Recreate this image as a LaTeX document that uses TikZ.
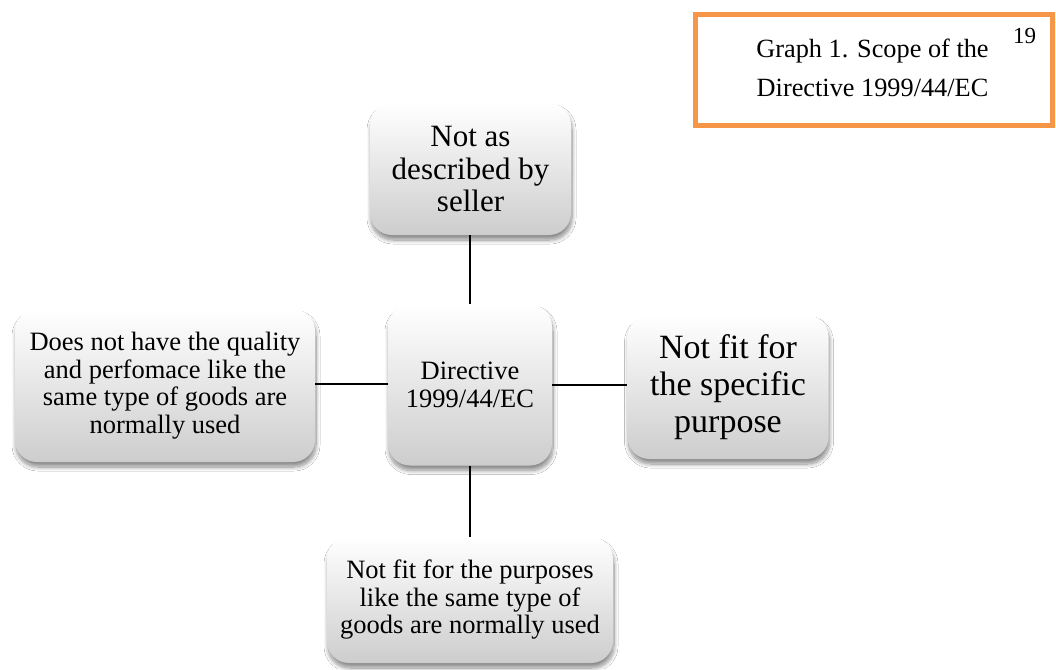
\documentclass[tikz,border=0pt]{standalone}
\usepackage{fontspec}
\setmainfont{Liberation Serif}
\usetikzlibrary{shadows.blur}
\definecolor{officeorange}{HTML}{F79646}
\definecolor{boxbottom}{HTML}{CDCDCD}
\tikzset{
  sbox/.style={rectangle, rounded corners=22pt, align=center, inner sep=2pt,
    top color=white, bottom color=boxbottom, draw=none,
    blur shadow={shadow xshift=1pt, shadow yshift=-5pt, shadow blur steps=10, shadow opacity=45, shadow blur radius=4pt},
    font=\fontsize{26.5}{27.5}\selectfont},
  link/.style={draw=black, line width=1.6pt},
}
\begin{document}
\begin{tikzpicture}[x=1pt,y=-1pt]
\useasboundingbox (0,0) rectangle (1056,669);
\fill[white] (0,0) rectangle (1056,669);
% caption box
\node[draw=officeorange, line width=5pt, minimum width=357pt, minimum height=111pt, inner sep=0pt] (cap) at (874,70) {};
\node[align=center, font=\fontsize{26.3}{39}\selectfont] (captext) at (872.5,68) {Graph 1. Scope of the\\Directive 1999/44/EC};
\node[font=\fontsize{23}{24}\selectfont, inner sep=0pt] (num) at (1024.5,35.5) {19};
% nodes
\node[sbox, minimum width=201pt, minimum height=132pt, font=\fontsize{31}{32}\selectfont] (top) at (470.5,169) {Not as\\described by\\seller};
\node[sbox, minimum width=164pt, minimum height=161pt] (center) at (470,385) {Directive\\1999/44/EC};
\node[sbox, minimum width=300pt, minimum height=153pt] (left) at (165,385.5) {Does not have the quality\\and perfomace like the\\same type of goods are\\normally used};
\node[sbox, minimum width=201pt, minimum height=144pt, font=\fontsize{34}{37}\selectfont] (right) at (728,387) {Not fit for\\the specific\\purpose};
\node[sbox, minimum width=286pt, minimum height=126pt] (bottom) at (470,600) {Not fit for the purposes\\like the same type of\\goods are normally used};
% connectors
\draw[link] (top.south -| center.north) -- (center.north);
\draw[link] (left.east |- 0,384) -- (center.west |- 0,384);
\draw[link] (center.east |- 0,385) -- (right.west |- 0,385);
\draw[link] (center.south) -- (bottom.north -| center.south);
\end{tikzpicture}
\end{document}
